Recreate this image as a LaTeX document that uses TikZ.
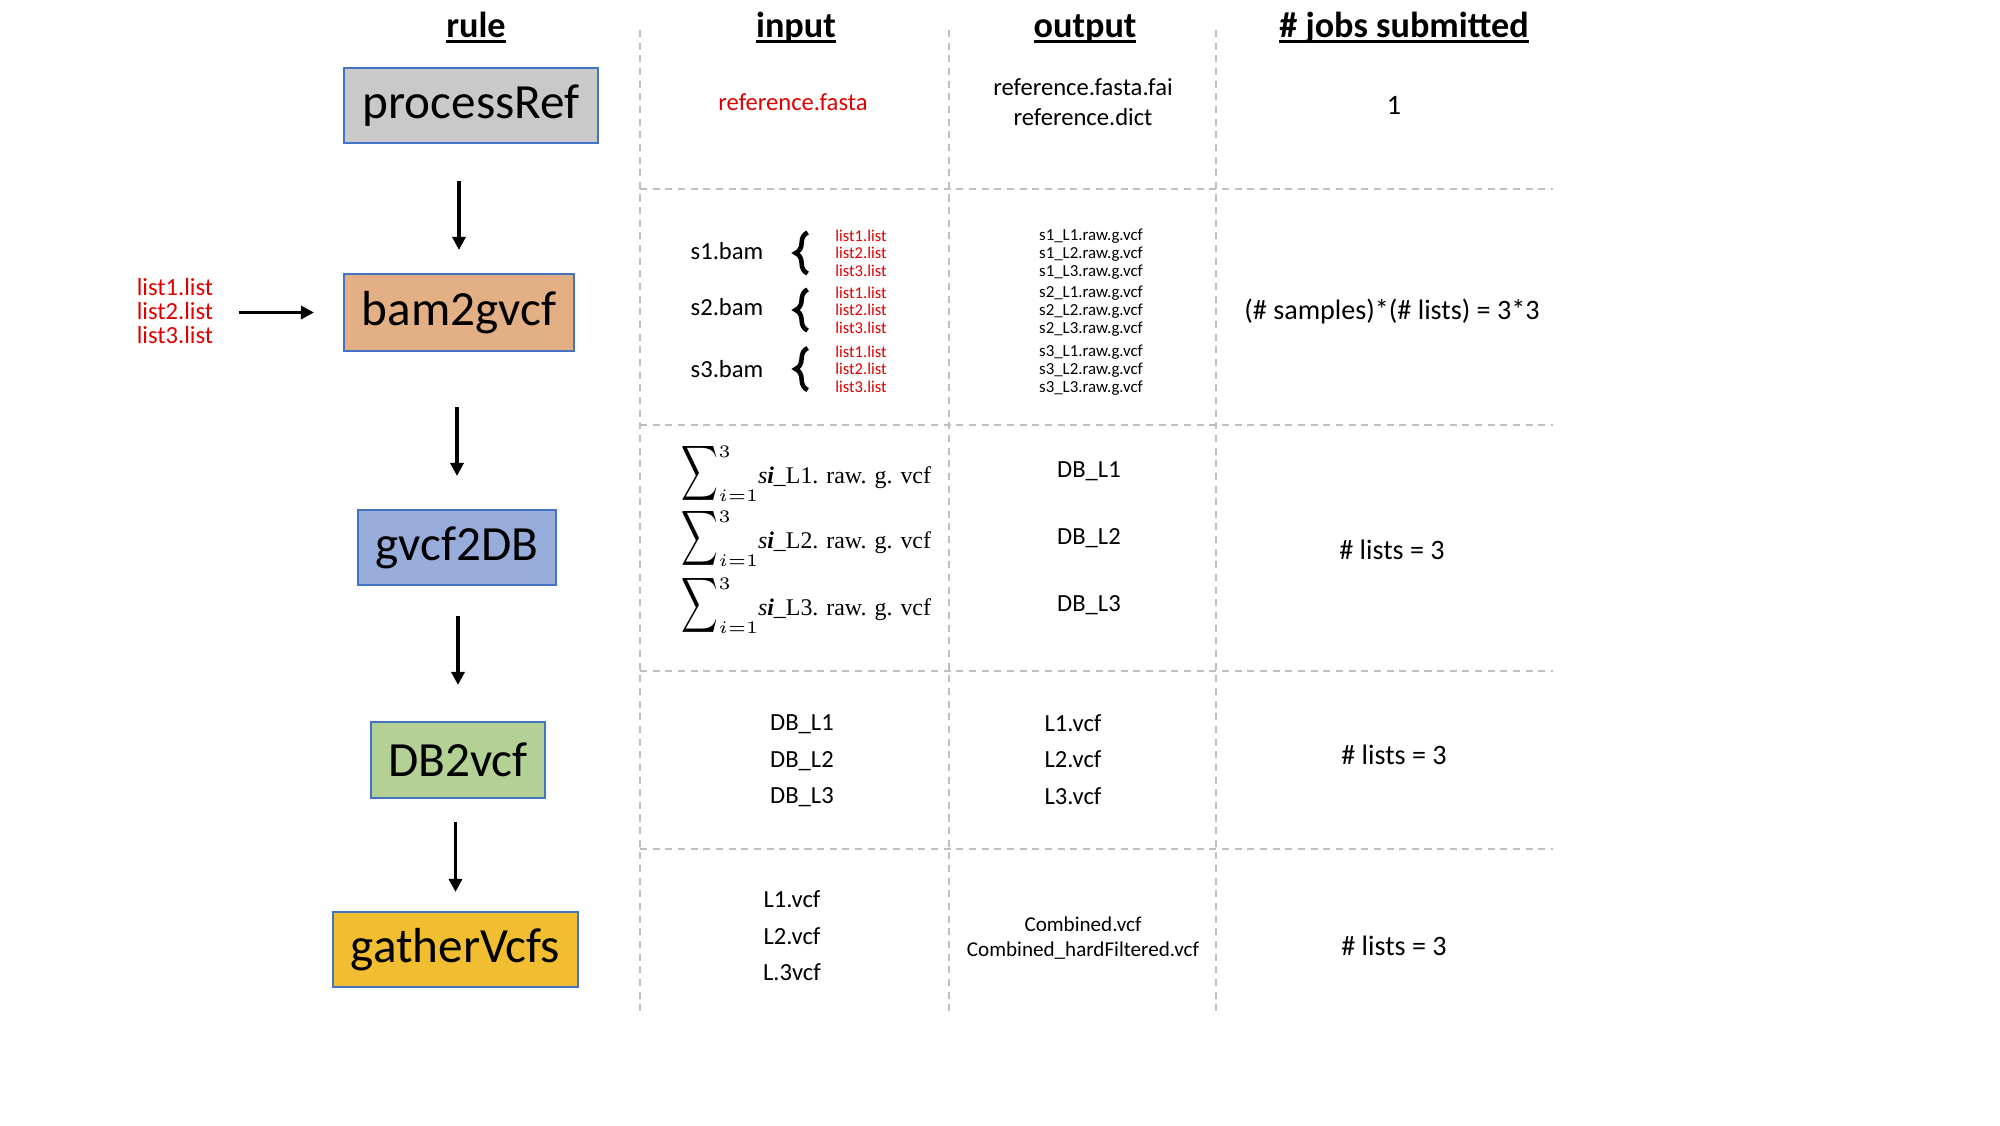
\documentclass[tikz,border=0pt]{standalone}
\usepackage{amsmath}
\usepackage{graphicx}
\usepackage[no-math]{fontspec}
\setmainfont{Carlito}
\newfontfamily\sumserif{Liberation Serif}
\usetikzlibrary{arrows.meta,decorations.pathreplacing}

\definecolor{refgray}{HTML}{C9C9C9}
\definecolor{bamtan}{HTML}{E3B085}
\definecolor{dbblue}{HTML}{97ACDB}
\definecolor{vcfgreen}{HTML}{B3D195}
\definecolor{gathergold}{HTML}{F0BE30}
\definecolor{boxedge}{HTML}{4472C4}
\definecolor{listred}{HTML}{E00000}
\definecolor{gridgray}{HTML}{BFBFBF}

% underlined column heading
\newcommand{\colul}[1]{\sbox0{#1}\rlap{\usebox0}\rule[-0.16em]{\wd0}{0.09em}}
% one summed input line
\newcommand{\gvcfsum}[1]{%
  \scalebox{0.66}[1]{\fontsize{10.5}{12}\selectfont$\displaystyle\sum$}%
  \rlap{\raisebox{7.3pt}{\fontsize{5.2}{6}\selectfont$3$}}%
  \raisebox{-5.2pt}{\fontsize{5.2}{6}\selectfont$i{=}1$}%
  {\sumserif\fontsize{6.8}{8}\selectfont\textit{s\textbf{i}}\_L#1. raw. g. vcf}}

\tikzset{
  rulebox/.style={draw=boxedge, line width=0.6pt, minimum height=0.75cm,
    inner sep=0pt, font=\fontsize{14}{16}\selectfont},
  colhead/.style={font=\fontsize{10.3}{12}\selectfont\bfseries, anchor=base},
  flow/.style={-{Triangle[length=0.13cm,width=0.13cm]}, line width=0.9pt},
  grid/.style={gridgray, dashed, dash pattern=on 2pt off 1.6pt, line width=0.6pt},
  brc/.style={decorate, decoration={brace, amplitude=0.12cm}, line width=1.3pt},
  txt/.style={font=\fontsize{7}{8.5}\selectfont, align=center},
  jobs/.style={font=\fontsize{8}{10}\selectfont},
}

\begin{document}
\begin{tikzpicture}
\useasboundingbox (0,0) rectangle (20,-11.25);

% column headings
\node[colhead] (hRule) at (4.76,-0.37) {\colul{rule}};
\node[colhead] (hInput) at (7.96,-0.37) {\colul{input}};
\node[colhead] (hOutput) at (10.85,-0.37) {\colul{output}};
\node[colhead] (hJobs) at (14.04,-0.37) {\colul{\# jobs submitted}};

% table lines
\draw[grid] (6.40,-0.30) -- (6.40,-10.14);
\draw[grid] (9.49,-0.30) -- (9.49,-10.14);
\draw[grid] (12.16,-0.30) -- (12.16,-10.14);
\draw[grid] (6.40,-1.89) -- (15.53,-1.89);
\draw[grid] (6.40,-4.25) -- (15.53,-4.25);
\draw[grid] (6.40,-6.71) -- (15.53,-6.71);
\draw[grid] (6.40,-8.49) -- (15.53,-8.49);

% rules
\node[rulebox, fill=refgray, minimum width=2.54cm] (processRef) at (4.71,-1.055) {processRef};
\node[rulebox, fill=bamtan, minimum width=2.30cm, minimum height=0.77cm] (bam2gvcf) at (4.59,-3.125) {bam2gvcf};
\node[rulebox, fill=dbblue, minimum width=1.98cm] (gvcf2DB) at (4.57,-5.475) {gvcf2DB};
\node[rulebox, fill=vcfgreen, minimum width=1.74cm, minimum height=0.76cm] (DB2vcf) at (4.58,-7.60) {DB2vcf};
\node[rulebox, fill=gathergold, minimum width=2.45cm] (gatherVcfs) at (4.555,-9.495) {gatherVcfs};

\node[txt, listred, font=\fontsize{7}{6.8}\selectfont] (lists) at (1.75,-3.11) {list1.list\\list2.list\\list3.list};

\draw[flow, shorten <=0.37cm, shorten >=0.23cm] (bam2gvcf.north |- processRef.south) -- (bam2gvcf.north);
\draw[flow, shorten <=0.55cm, shorten >=0.33cm] (gvcf2DB.north |- bam2gvcf.south) -- (gvcf2DB.north);
\draw[flow, shorten <=0.30cm, shorten >=0.36cm] (DB2vcf.north |- gvcf2DB.south) -- (DB2vcf.north);
\draw[flow, shorten <=0.23cm, shorten >=0.19cm] (gatherVcfs.north |- DB2vcf.south) -- (gatherVcfs.north);
\draw[flow, shorten <=0.13cm, shorten >=0.29cm] (lists.east |- bam2gvcf.west) -- (bam2gvcf.west);

% processRef row
\node[txt, listred] (refIn) at (7.93,-1.02) {reference.fasta};
\node[txt] (refOut) at (10.83,-1.02) {reference.fasta.fai\\reference.dict};
\node[jobs] (refJobs) at (13.94,-1.05) {1};

% bam2gvcf row
\node[txt] (bamA) at (7.27,-2.51) {s1.bam};
\node[txt] (bamB) at (7.27,-3.07) {s2.bam};
\node[txt] (bamC) at (7.27,-3.69) {s3.bam};
\node[txt, listred, font=\fontsize{4.7}{5}\selectfont, inner sep=0pt] (inA) at (8.61,-2.53) {list1.list\\list2.list\\list3.list};
\node[txt, listred, font=\fontsize{4.7}{5}\selectfont, inner sep=0pt] (inB) at (8.61,-3.10) {list1.list\\list2.list\\list3.list};
\node[txt, listred, font=\fontsize{4.7}{5}\selectfont, inner sep=0pt] (inC) at (8.61,-3.69) {list1.list\\list2.list\\list3.list};
\draw[brc] ([xshift=-0.27cm,yshift=-0.205cm]inA.west) -- ([xshift=-0.27cm,yshift=0.205cm]inA.west);
\draw[brc] ([xshift=-0.27cm,yshift=-0.205cm]inB.west) -- ([xshift=-0.27cm,yshift=0.205cm]inB.west);
\draw[brc] ([xshift=-0.27cm,yshift=-0.21cm]inC.west) -- ([xshift=-0.27cm,yshift=0.21cm]inC.west);
\node[txt, font=\fontsize{4.8}{5.1}\selectfont] (gvcfA) at (10.91,-2.54) {s1\_L1.raw.g.vcf\\s1\_L2.raw.g.vcf\\s1\_L3.raw.g.vcf};
\node[txt, font=\fontsize{4.8}{5.1}\selectfont] (gvcfB) at (10.91,-3.11) {s2\_L1.raw.g.vcf\\s2\_L2.raw.g.vcf\\s2\_L3.raw.g.vcf};
\node[txt, font=\fontsize{4.8}{5.1}\selectfont] (gvcfC) at (10.91,-3.70) {s3\_L1.raw.g.vcf\\s3\_L2.raw.g.vcf\\s3\_L3.raw.g.vcf};
\node[jobs] (bamJobs) at (13.92,-3.11) {(\# samples)*(\# lists) = 3*3};

% gvcf2DB row
\node[anchor=base, inner sep=0pt] (sumA) at (8.065,-4.83) {\gvcfsum{1}};
\node[anchor=base, inner sep=0pt] (sumB) at (8.065,-5.48) {\gvcfsum{2}};
\node[anchor=base, inner sep=0pt] (sumC) at (8.065,-6.15) {\gvcfsum{3}};
\node[txt] (dbA) at (10.89,-4.71) {DB\_L1};
\node[txt] (dbB) at (10.89,-5.38) {DB\_L2};
\node[txt] (dbC) at (10.89,-6.05) {DB\_L3};
\node[jobs] (dbJobs) at (13.92,-5.50) {\# lists = 3};

% DB2vcf row
\node[txt, font=\fontsize{7}{10.4}\selectfont] (vcfIn) at (8.02,-7.61) {DB\_L1\\DB\_L2\\DB\_L3};
\node[txt, font=\fontsize{7}{10.4}\selectfont] (vcfOut) at (10.73,-7.595) {L1.vcf\\L2.vcf\\L3.vcf};
\node[jobs] (vcfJobs) at (13.94,-7.55) {\# lists = 3};

% gatherVcfs row
\node[txt, font=\fontsize{7}{10.4}\selectfont] (gatherIn) at (7.92,-9.36) {L1.vcf\\L2.vcf\\L.3vcf};
\node[txt, font=\fontsize{6}{7.1}\selectfont] (gatherOut) at (10.83,-9.385) {Combined.vcf\\Combined\_hardFiltered.vcf};
\node[jobs] (gatherJobs) at (13.94,-9.46) {\# lists = 3};
\end{tikzpicture}
\end{document}
